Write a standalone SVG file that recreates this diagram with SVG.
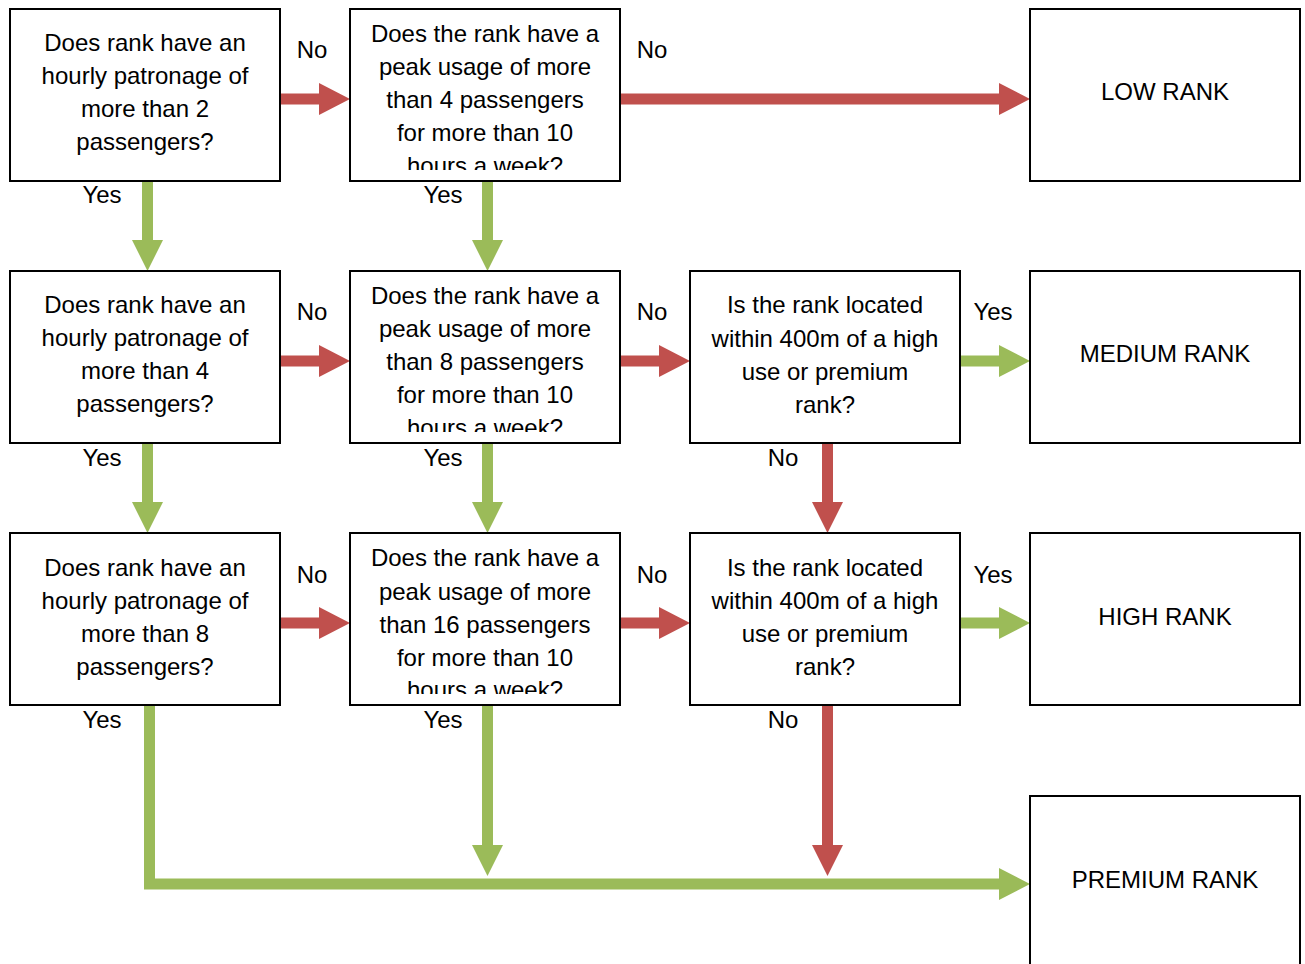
<svg xmlns="http://www.w3.org/2000/svg" width="1305" height="964" viewBox="0 0 1305 964">
<style>
.box{fill:#fff;stroke:#000;stroke-width:2}
.t{font-family:"Liberation Sans",Arial,sans-serif;font-size:24px;fill:#000;text-anchor:middle}
.r{fill:#C0504D}
.g{fill:#9BBB59}
</style>
<defs>
<clipPath id="c1"><rect x="350" y="9" width="270" height="161"/></clipPath>
<clipPath id="c2"><rect x="350" y="271" width="270" height="161"/></clipPath>
<clipPath id="c3"><rect x="350" y="533" width="270" height="161"/></clipPath>
</defs>
<g id="connectors">
<polygon class="r" points="280,93.5 319,93.5 319,83 350,99 319,115 319,104.5 280,104.5"/>
<polygon class="r" points="620,93.5 999,93.5 999,83 1030,99 999,115 999,104.5 620,104.5"/>
<polygon class="r" points="280,355.5 319,355.5 319,345 350,361 319,377 319,366.5 280,366.5"/>
<polygon class="r" points="620,355.5 659,355.5 659,345 690,361 659,377 659,366.5 620,366.5"/>
<polygon class="g" points="960,355.5 999,355.5 999,345 1030,361 999,377 999,366.5 960,366.5"/>
<polygon class="r" points="280,617.5 319,617.5 319,607 350,623 319,639 319,628.5 280,628.5"/>
<polygon class="r" points="620,617.5 659,617.5 659,607 690,623 659,639 659,628.5 620,628.5"/>
<polygon class="g" points="960,617.5 999,617.5 999,607 1030,623 999,639 999,628.5 960,628.5"/>
<polygon class="g" points="142,181 153,181 153,240 163,240 147.5,271 132,240 142,240"/>
<polygon class="g" points="482,181 493,181 493,240 503,240 487.5,271 472,240 482,240"/>
<polygon class="g" points="142,443 153,443 153,502 163,502 147.5,533 132,502 142,502"/>
<polygon class="g" points="482,443 493,443 493,502 503,502 487.5,533 472,502 482,502"/>
<polygon class="r" points="822,443 833,443 833,502 843,502 827.5,533 812,502 822,502"/>
<polygon class="g" points="482,705 493,705 493,845 503,845 487.5,876 472,845 482,845"/>
<polygon class="r" points="822,705 833,705 833,845 843,845 827.5,876 812,845 822,845"/>
<polygon class="g" points="144,703 155,703 155,878.5 999,878.5 999,868 1030,884 999,900 999,889.5 144,889.5"/>
</g>
<g id="labels" class="t">
<text x="312" y="58">No</text>
<text x="652" y="58">No</text>
<text x="102" y="203">Yes</text>
<text x="443" y="203">Yes</text>
<text x="312" y="320">No</text>
<text x="652" y="320">No</text>
<text x="993" y="320">Yes</text>
<text x="102" y="466">Yes</text>
<text x="443" y="466">Yes</text>
<text x="783" y="466">No</text>
<text x="312" y="583">No</text>
<text x="652" y="583">No</text>
<text x="993" y="583">Yes</text>
<text x="102" y="728">Yes</text>
<text x="443" y="728">Yes</text>
<text x="783" y="728">No</text>
</g>
<g id="q1">
<rect class="box" x="10" y="9" width="270" height="172"/>
<text class="t"><tspan x="145" y="51">Does rank have an</tspan><tspan x="145" y="84">hourly patronage of</tspan><tspan x="145" y="117">more than 2</tspan><tspan x="145" y="150">passengers?</tspan></text>
</g>
<g id="q2">
<rect class="box" x="350" y="9" width="270" height="172"/>
<text class="t" clip-path="url(#c1)"><tspan x="485" y="42">Does the rank have a</tspan><tspan x="485" y="75">peak usage of more</tspan><tspan x="485" y="108">than 4 passengers</tspan><tspan x="485" y="141">for more than 10</tspan><tspan x="485" y="174">hours a week?</tspan></text>
</g>
<g id="low">
<rect class="box" x="1030" y="9" width="270" height="172"/>
<text class="t" x="1165" y="100">LOW RANK</text>
</g>
<g id="q3">
<rect class="box" x="10" y="271" width="270" height="172"/>
<text class="t"><tspan x="145" y="313">Does rank have an</tspan><tspan x="145" y="346">hourly patronage of</tspan><tspan x="145" y="379">more than 4</tspan><tspan x="145" y="412">passengers?</tspan></text>
</g>
<g id="q4">
<rect class="box" x="350" y="271" width="270" height="172"/>
<text class="t" clip-path="url(#c2)"><tspan x="485" y="304">Does the rank have a</tspan><tspan x="485" y="337">peak usage of more</tspan><tspan x="485" y="370">than 8 passengers</tspan><tspan x="485" y="403">for more than 10</tspan><tspan x="485" y="436">hours a week?</tspan></text>
</g>
<g id="q5">
<rect class="box" x="690" y="271" width="270" height="172"/>
<text class="t"><tspan x="825" y="313">Is the rank located</tspan><tspan x="825" y="347">within 400m of a high</tspan><tspan x="825" y="380">use or premium</tspan><tspan x="825" y="413">rank?</tspan></text>
</g>
<g id="medium">
<rect class="box" x="1030" y="271" width="270" height="172"/>
<text class="t" x="1165" y="362">MEDIUM RANK</text>
</g>
<g id="q6">
<rect class="box" x="10" y="533" width="270" height="172"/>
<text class="t"><tspan x="145" y="576">Does rank have an</tspan><tspan x="145" y="609">hourly patronage of</tspan><tspan x="145" y="642">more than 8</tspan><tspan x="145" y="675">passengers?</tspan></text>
</g>
<g id="q7">
<rect class="box" x="350" y="533" width="270" height="172"/>
<text class="t" clip-path="url(#c3)"><tspan x="485" y="566">Does the rank have a</tspan><tspan x="485" y="600">peak usage of more</tspan><tspan x="485" y="633">than 16 passengers</tspan><tspan x="485" y="666">for more than 10</tspan><tspan x="485" y="698">hours a week?</tspan></text>
</g>
<g id="q8">
<rect class="box" x="690" y="533" width="270" height="172"/>
<text class="t"><tspan x="825" y="576">Is the rank located</tspan><tspan x="825" y="609">within 400m of a high</tspan><tspan x="825" y="642">use or premium</tspan><tspan x="825" y="675">rank?</tspan></text>
</g>
<g id="high">
<rect class="box" x="1030" y="533" width="270" height="172"/>
<text class="t" x="1165" y="625">HIGH RANK</text>
</g>
<g id="premium">
<rect class="box" x="1030" y="796" width="270" height="180"/>
<text class="t" x="1165" y="888">PREMIUM RANK</text>
</g>
</svg>
